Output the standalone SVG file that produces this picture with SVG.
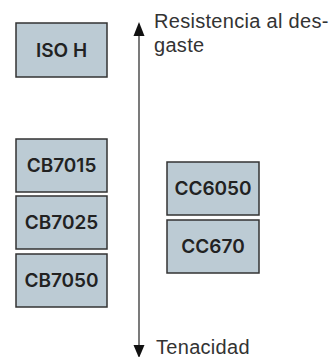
<svg xmlns="http://www.w3.org/2000/svg" width="332" height="357" viewBox="0 0 332 357">
<style>
.box{fill:#bccbd4;stroke:#333;stroke-width:1.5}
.bt{font-family:Inter,"Liberation Sans",Arial,sans-serif;font-size:19px;font-weight:600;fill:#222;text-anchor:middle}
.lbl{font-family:"Liberation Sans",Arial,sans-serif;font-size:20px;letter-spacing:0.3px;fill:#333}
.ax{stroke:#333;stroke-width:1.3;fill:none}
</style>
<rect width="332" height="357" fill="#fff"/>
<g id="connectors">
<line class="ax" x1="139" y1="34" x2="139" y2="348"/>
<polygon points="139,22 133.5,36 144.5,36" fill="#111"/>
<polygon points="139,358 133.5,345 144.5,345" fill="#111"/>
</g>
<g id="isoh"><rect class="box" x="16" y="23" width="91" height="54"/><text class="bt" x="61.5" y="57">ISO H</text></g>
<g id="cb7015"><rect class="box" x="16" y="139" width="91" height="53"/><text class="bt" x="61.5" y="172">CB7015</text></g>
<g id="cb7025"><rect class="box" x="16" y="196" width="91" height="53"/><text class="bt" x="61.5" y="229">CB7025</text></g>
<g id="cb7050"><rect class="box" x="16" y="254" width="91" height="53"/><text class="bt" x="61.5" y="287">CB7050</text></g>
<g id="cc6050"><rect class="box" x="167" y="162" width="92" height="53"/><text class="bt" x="213" y="195">CC6050</text></g>
<g id="cc670"><rect class="box" x="167" y="220" width="92" height="53"/><text class="bt" x="213" y="253">CC670</text></g>
<g id="labels">
<text class="lbl" x="154" y="28">Resistencia al des-</text>
<text class="lbl" x="154" y="52">gaste</text>
<text class="lbl" x="156" y="354">Tenacidad</text>
</g>
</svg>
